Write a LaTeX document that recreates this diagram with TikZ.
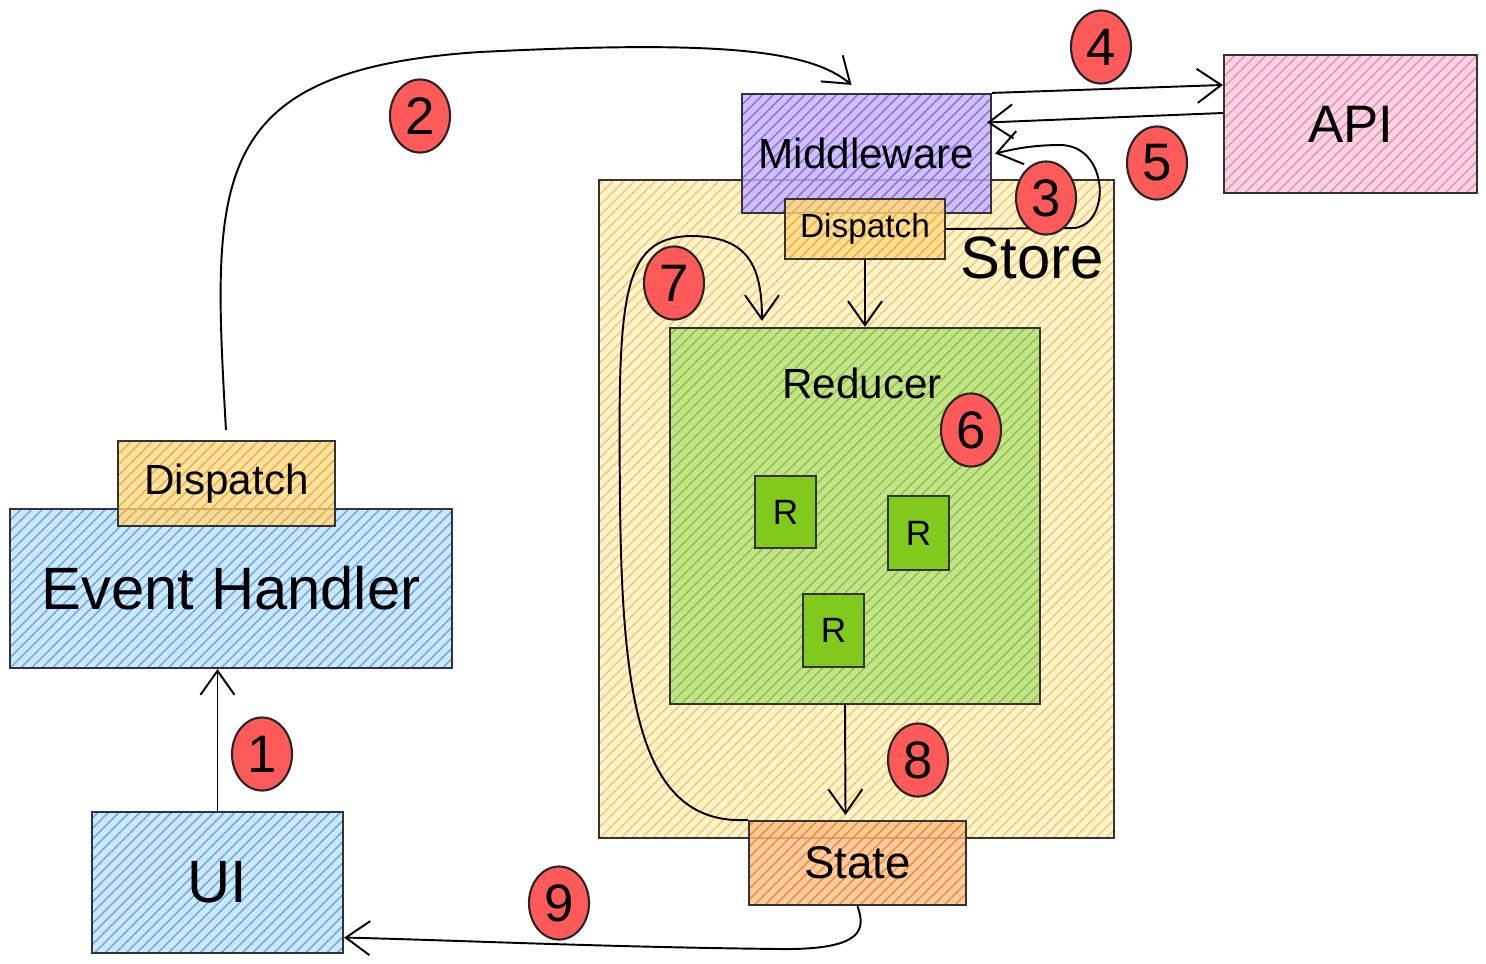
\documentclass[tikz,border=0pt]{standalone}
\usepackage{fontspec}
\setmainfont{Liberation Sans}
\usetikzlibrary{shapes.geometric,arrows.meta,patterns}

\definecolor{blueFill}{HTML}{CFE6FB}
\definecolor{blueLine}{HTML}{5AAEF2}
\definecolor{yelFill}{HTML}{FFF4D2}
\definecolor{yelLine}{HTML}{FCC95A}
\definecolor{dispFill}{HTML}{FDD98A}
\definecolor{dispLine}{HTML}{F5B02E}
\definecolor{mwFill}{HTML}{C4B2F7}
\definecolor{mwLine}{HTML}{8C6BEF}
\definecolor{apiFill}{HTML}{F9D3E4}
\definecolor{apiLine}{HTML}{EE8DB8}
\definecolor{redFill}{HTML}{C2E38C}
\definecolor{redLine}{HTML}{8CC63E}
\definecolor{rGreen}{HTML}{82C91E}
\definecolor{stFill}{HTML}{FDC08A}
\definecolor{stLine}{HTML}{F98A2E}
\definecolor{numRed}{HTML}{FF5A5A}

\tikzset{
  box/.style={rectangle, draw=black!80, line width=0.6pt, inner sep=0pt},
  hatch/.style 2 args={preaction={fill=#1}, pattern=north east lines, pattern color=#2},
  num/.style={ellipse, draw=black!85, line width=0.6pt, fill=numRed, minimum width=0.6cm, minimum height=0.73cm, inner sep=0pt, font=\fontsize{15}{17}\selectfont},
  arr/.style={-{Straight Barb[length=2.4mm,width=3.4mm]}, line width=0.55pt},
}

\begin{document}
\begin{tikzpicture}[x=0.01cm, y=-0.01cm]
  \useasboundingbox[fill=white] (0,0) rectangle (1486,963);

  % left column
  \node[box, hatch={blueFill}{blueLine}, minimum width=4.42cm, minimum height=1.59cm,
        font=\fontsize{17}{20}\selectfont] (evt) at (231,588.5) {Event Handler};
  \node[box, fill opacity=0.75, text opacity=1, hatch={dispFill}{dispLine}, minimum width=2.17cm, minimum height=0.85cm,
        font=\fontsize{12}{14}\selectfont] (ldisp) at (226.5,483.5) {Dispatch};
  \node[box, hatch={blueFill}{blueLine}, minimum width=2.51cm, minimum height=1.41cm,
        font=\fontsize{17}{20}\selectfont] (ui) at (217.5,882.5) {UI};

  % store
  \node[box, hatch={yelFill}{yelLine}, minimum width=5.15cm, minimum height=6.58cm] (store) at (856.5,509) {};
  \node[font=\fontsize{17}{20}\selectfont] (storelbl) at (1032,258) {Store};
  \node[box, hatch={redFill}{redLine}, minimum width=3.70cm, minimum height=3.76cm] (red) at (855,516) {};
  \node[font=\fontsize{12}{14}\selectfont] (redlbl) at (862,383) {Reducer};
  \node[box, fill=rGreen, minimum width=0.61cm, minimum height=0.72cm] (r1) at (785.5,512) {R};
  \node[box, fill=rGreen, minimum width=0.61cm, minimum height=0.74cm] (r2) at (918.5,533) {R};
  \node[box, fill=rGreen, minimum width=0.61cm, minimum height=0.73cm] (r3) at (833.5,630.5) {R};

  \node[box, fill opacity=0.8, text opacity=1, hatch={mwFill}{mwLine}, minimum width=2.49cm, minimum height=1.19cm,
        font=\fontsize{12}{14}\selectfont] (mw) at (866.5,153.5) {Middleware};
  \node[box, fill opacity=0.8, text opacity=1, hatch={dispFill}{dispLine}, minimum width=1.60cm, minimum height=0.60cm,
        font=\fontsize{9.5}{11}\selectfont] (sdisp) at (865,229) {Dispatch};
  \node[box, hatch={apiFill}{apiLine}, minimum width=2.53cm, minimum height=1.38cm,
        font=\fontsize{15}{18}\selectfont] (api) at (1350.5,124) {API};
  \node[box, fill opacity=0.8, text opacity=1, hatch={stFill}{stLine}, minimum width=2.17cm, minimum height=0.84cm,
        font=\fontsize{13}{15}\selectfont] (state) at (857.5,863) {State};

  % connectors
  \draw[arr] (ui.north) -- (ui.north |- evt.south);
  \draw[arr, shorten <=0.1cm] (ldisp.north) .. controls (212,180) and (205,70) .. (480,52)
        .. controls (720,40) and (810,50) .. ([xshift=-0.15cm, yshift=0.08cm]mw.north);
  \draw[arr] (mw.north east) -- ([yshift=0.39cm]api.west);
  \draw[arr] ([yshift=0.11cm]api.west) -- ([xshift=-0.05cm, yshift=0.31cm]mw.east);
  \draw[arr] (sdisp.east) -- (1075,228) .. controls (1112,222) and (1108,145) .. (1060,145)
        .. controls (1030,145) and (1010,150) .. ([xshift=0.03cm]mw.east);
  \draw[arr] (sdisp.south) -- (sdisp.south |- red.north);
  \draw[arr] (state.north west) .. controls (640,826) and (622,700) .. (620,500)
        .. controls (618,300) and (620,238) .. (690,236)
        .. controls (745,236) and (762,262) .. ([xshift=-0.93cm, yshift=0.06cm]red.north);
  \draw[arr] ([xshift=-0.1cm]red.south) -- ([xshift=-0.12cm, yshift=0.05cm]state.north);
  \draw[arr] (state.south) .. controls (865,928) and (866,950) .. (780,949)
        .. controls (600,947) and (450,940) .. ([yshift=-0.55cm]ui.east);

  % step numbers
  \node[num] (n1) at (262,754) {1};
  \node[num] (n2) at (420,116) {2};
  \node[num] (n3) at (1046,198) {3};
  \node[num] (n4) at (1101,47) {4};
  \node[num] (n5) at (1157,163) {5};
  \node[num] (n6) at (971,430) {6};
  \node[num] (n7) at (674,283) {7};
  \node[num] (n8) at (918,760) {8};
  \node[num] (n9) at (559,903) {9};
\end{tikzpicture}
\end{document}
